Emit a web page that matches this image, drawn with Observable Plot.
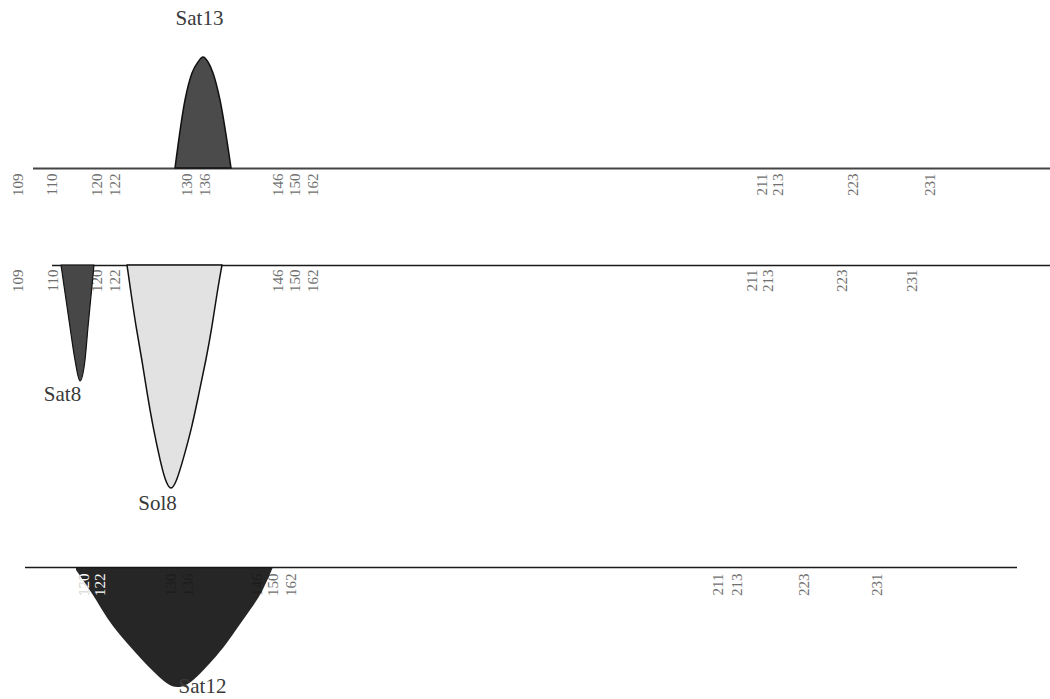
<!DOCTYPE html>
<html><head><meta charset="utf-8">
<script src="https://cdn.jsdelivr.net/npm/d3@7"></script>
<script src="https://cdn.jsdelivr.net/npm/@observablehq/plot@0.6"></script>
<style>
html,body{margin:0;padding:0;background:#fff;}
#chart svg{display:block;}
</style>
</head><body><div id="chart"></div>
<script>
// Tick labels (allele sizes) and their positions along the scan axis, per panel
const tickLabels1 = ["109","110","120","122","130","136","146","150","162","211","213","223","231"];
const tickPos1    = [18, 52, 97, 115, 187, 205, 278, 295, 313, 762, 778, 853, 930];
const tickLabels2 = ["109","110","120","122","130","136","146","150","162","211","213","223","231"];
const tickPos2    = [18, 53, 97, 115, 187, 205, 278, 295, 313, 752, 768, 842, 912];
const tickLabels3 = ["120","122","130","136","146","150","162","211","213","223","231"];
const tickPos3    = [84, 100, 171, 188, 257, 273, 291, 718, 737, 804, 877];
const whiteLabels3 = ["120","122"];

// Baseline extents of each panel (scan axis)
const lineExtent1 = [33, 1050];
const lineExtent2 = [52, 1050];
const lineExtent3 = [25, 1017];

// Peak profiles (scan position, signal; negative = drawn below the baseline)
const sat13X = [175, 185, 192, 198, 203, 208, 213, 220, 231];
const sat13Y = [0, 68, 95, 106, 111, 106, 95, 68, 0];
const sat8X  = [61, 70, 75, 80, 85, 88, 94];
const sat8Y  = [0, -62, -95, -116, -95, -62, 0];
const sol8X  = [127, 131, 136, 142, 147, 153, 160, 165, 171, 177, 183, 192, 199, 206, 212, 217, 222];
const sol8Y  = [0, -28, -62, -95, -128, -162, -195, -215, -227, -215, -195, -162, -128, -95, -62, -28, 0];
const sat12X = [76, 92, 102, 113, 127, 142, 157, 168, 177, 188, 200, 213, 227, 238, 250, 262, 273];
const sat12Y = [-3, -26, -43, -60, -76, -93, -108, -118, -121, -118, -107, -93, -76, -60, -43, -26, 0];

// Peak names and label anchors
const names1 = ["Sat13"], nameX1 = [199], nameY1 = [150];
const names2 = ["Sat8", "Sol8"], nameX2 = [62, 157], nameY2 = [-129, -238];
const names3 = ["Sat12"], nameX3 = [202], nameY3 = [-119];

const serif = "'Liberation Serif', 'Times New Roman', serif";
const zip = (xs, ys) => xs.map((x, i) => ({x, y: ys[i]}));
const ticks = (labels, pos) => labels.map((t, i) => ({t, x: pos[i]}));
const namesData = (n, xs, ys) => n.map((t, i) => ({t, x: xs[i], y: ys[i]}));

function base(height, yDomain, marks) {
  return Plot.plot({
    width: 1050, height,
    marginTop: 0, marginBottom: 0, marginLeft: 0, marginRight: 0,
    x: {domain: [0, 1050], axis: null},
    y: {domain: yDomain, axis: null},
    style: {fontFamily: serif, background: "#fff", overflow: "visible"},
    marks
  });
}

const tickText = (data, dy, fill = "#707070") => Plot.text(data, {
  x: "x", y: () => 0, text: "t", rotate: -90, textAnchor: "end",
  dy, fontSize: 15, fill, fontFamily: serif
});
const nameText = (data) => Plot.text(data, {
  x: "x", y: "y", text: "t", fontSize: 21, fill: "#3a3a3a", fontFamily: serif
});

const p1 = base(230, [-62, 168], [
  Plot.ruleY([0], {x1: lineExtent1[0], x2: lineExtent1[1], stroke: "#444", strokeWidth: 2}),
  tickText(ticks(tickLabels1, tickPos1), 5),
  Plot.areaY(zip(sat13X, sat13Y), {x: "x", y: "y", curve: "monotone-x", fill: "#4b4b4b", stroke: "#111", strokeWidth: 1.5}),
  nameText(namesData(names1, nameX1, nameY1))
]);

const p2 = base(300, [-265, 35], [
  Plot.ruleY([0], {x1: lineExtent2[0], x2: lineExtent2[1], stroke: "#1a1a1a", strokeWidth: 1.6}),
  tickText(ticks(tickLabels2, tickPos2), 4),
  Plot.areaY(zip(sol8X, sol8Y), {x: "x", y: "y", curve: "basis", fill: "#e2e2e2", stroke: "#111", strokeWidth: 1.5}),
  Plot.areaY(zip(sat8X, sat8Y), {x: "x", y: "y", curve: "monotone-x", fill: "#474747", stroke: "#111", strokeWidth: 1.2}),
  nameText(namesData(names2, nameX2, nameY2))
]);

const t3 = ticks(tickLabels3, tickPos3);
const p3 = base(169, [-132, 37], [
  Plot.ruleY([0], {x1: lineExtent3[0], x2: lineExtent3[1], stroke: "#1a1a1a", strokeWidth: 1.6}),
  tickText(t3, 6),
  Plot.areaY(zip(sat12X, sat12Y), {x: "x", y: "y", curve: "basis", fill: "#151515", fillOpacity: 0.93}),
  tickText(t3.filter(d => whiteLabels3.includes(d.t)), 6, "#ffffff"),
  nameText(namesData(names3, nameX3, nameY3))
]);

const root = document.getElementById("chart");
root.append(p1, p2, p3);
</script>
</body></html>
